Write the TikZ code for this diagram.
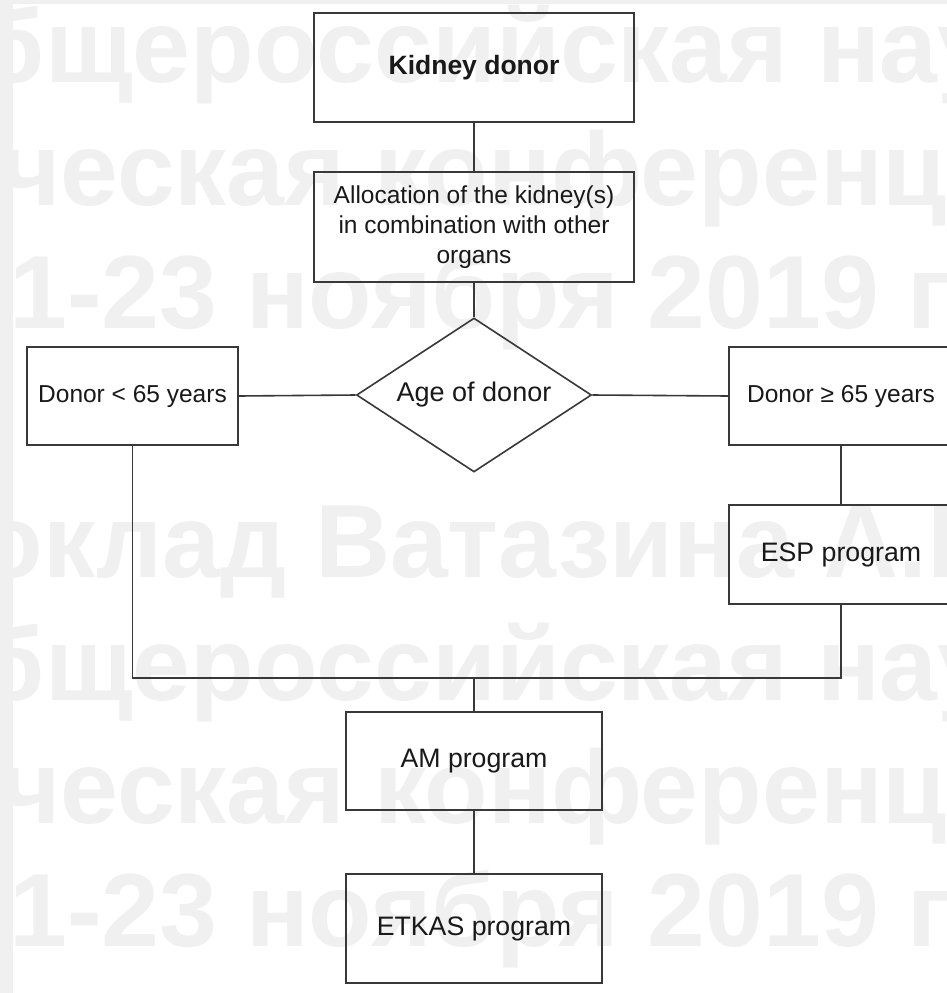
\documentclass[tikz,border=0pt]{standalone}
\usepackage{fontspec}
\setmainfont{Liberation Sans}
\usetikzlibrary{shapes.geometric}
\tikzset{
  box/.style={draw=black!78, line width=1.6pt, rectangle, inner sep=0pt, text=black!90},
  conn/.style={draw=black!78, line width=1.6pt},
  wm/.style={text=black!6, inner sep=0pt, font=\fontsize{104}{110}\selectfont\bfseries},
  txtA/.style={font=\fontsize{24.5}{30}\selectfont},
  txtB/.style={font=\fontsize{26.7}{30}\selectfont},
}
\begin{document}
\begin{tikzpicture}[x=1pt,y=-1pt]
\useasboundingbox (0,0) rectangle (947,993);
\clip (0,0) rectangle (947,993);
\fill[white] (0,0) rectangle (947,993);
% faint background strips
\fill[black!6] (0,0) rectangle (13,993);
\fill[black!6] (0,0) rectangle (947,4);
% watermark
\node[wm, anchor=base west] (w1) at (817,82) {\llap{Общероссийская }научно-практическая};
\node[wm, anchor=base west] (w2) at (0,205) {ческая конференция};
\node[wm, anchor=base west] (w3) at (9,328) {\llap{2}1-23 ноября 2019 г.};
\node[wm, anchor=base west] (w4) at (315,577) {\llap{Доклад }Ватазина А.В.};
\node[wm, anchor=base west] (w5) at (817,700) {\llap{Общероссийская }научно-практическая};
\node[wm, anchor=base west] (w6) at (0,823) {ческая конференция};
\node[wm, anchor=base west] (w7) at (9,946) {\llap{2}1-23 ноября 2019 г.};
% nodes
\node[box, minimum width=320pt, minimum height=109pt, font=\fontsize{26.5}{30}\selectfont\bfseries] (kd) at (474,67.5) {Kidney donor};
\node[box, minimum width=320pt, minimum height=110pt, align=center, txtA] (al) at (474,227) {Allocation of the kidney(s)\\ in combination with other\\organs};
\node[draw=black!78, line width=1.6pt, diamond, aspect=1.53, inner sep=0pt, minimum width=235pt, minimum height=154pt, text=black!90, font=\fontsize{27}{30}\selectfont] (age) at (474,395) {Age of donor};
\node[box, minimum width=211pt, minimum height=98pt, txtA] (lt) at (132.5,396) {Donor < 65 years};
\node[box, minimum width=224pt, minimum height=98pt, txtA] (ge) at (841,396) {Donor ≥ 65 years};
\node[box, minimum width=224pt, minimum height=99pt, txtB] (esp) at (841,554.5) {ESP program};
\node[box, minimum width=256pt, minimum height=98pt, txtB] (am) at (474,761) {AM program};
\node[box, minimum width=256pt, minimum height=109pt, txtB] (et) at (474,928.5) {ETKAS program};
\coordinate (bus) at (474,678);
% connectors
\draw[conn] (kd.south) -- (al.north);
\draw[conn] (al.south) -- (age.north);
\draw[conn] (age.west) -- (lt.east);
\draw[conn] (age.east) -- (ge.west);
\draw[conn] (ge.south) -- (esp.north);
\draw[conn] (lt.south) |- (bus) -| (esp.south);
\draw[conn] (bus) -- (am.north);
\draw[conn] (am.south) -- (et.north);
\end{tikzpicture}
\end{document}
